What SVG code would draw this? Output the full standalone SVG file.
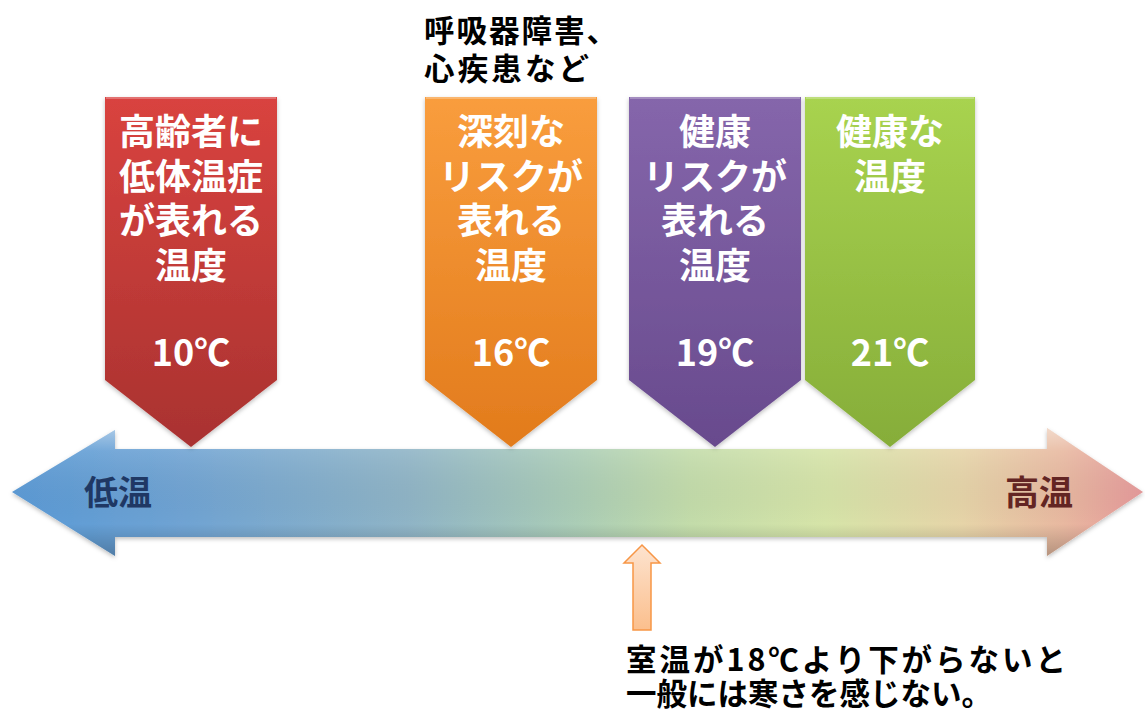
<svg xmlns="http://www.w3.org/2000/svg" width="1145" height="711" viewBox="0 0 1145 711">
<defs>
<linearGradient id="gRed" x1="0" y1="0" x2="0" y2="1"><stop offset="0" stop-color="#d9433f"/><stop offset="1" stop-color="#a93230"/></linearGradient>
<linearGradient id="gOrange" x1="0" y1="0" x2="0" y2="1"><stop offset="0" stop-color="#f99d3d"/><stop offset="1" stop-color="#e27b1c"/></linearGradient>
<linearGradient id="gPurple" x1="0" y1="0" x2="0" y2="1"><stop offset="0" stop-color="#8566ab"/><stop offset="1" stop-color="#684a8d"/></linearGradient>
<linearGradient id="gGreen" x1="0" y1="0" x2="0" y2="1"><stop offset="0" stop-color="#a8d34f"/><stop offset="1" stop-color="#86ad39"/></linearGradient>
<linearGradient id="gAxis" x1="0" y1="0" x2="1" y2="0">
<stop offset="0" stop-color="#5a9ad6"/>
<stop offset="0.15" stop-color="#6fa3d3"/>
<stop offset="0.35" stop-color="#8fb4c6"/>
<stop offset="0.5" stop-color="#abcdb6"/>
<stop offset="0.6" stop-color="#c3dcaa"/>
<stop offset="0.72" stop-color="#d6e4a8"/>
<stop offset="0.84" stop-color="#e6d4a8"/>
<stop offset="0.93" stop-color="#e8b8a0"/>
<stop offset="1" stop-color="#e6999a"/>
</linearGradient>
<linearGradient id="gShade" x1="0" y1="0" x2="0" y2="1">
<stop offset="0" stop-color="#ffffff" stop-opacity="0.45"/>
<stop offset="0.18" stop-color="#ffffff" stop-opacity="0.1"/>
<stop offset="0.75" stop-color="#000000" stop-opacity="0"/>
<stop offset="1" stop-color="#000000" stop-opacity="0.22"/>
</linearGradient>
<linearGradient id="gUp" x1="0" y1="0" x2="0" y2="1"><stop offset="0" stop-color="#fde3cf"/><stop offset="1" stop-color="#fbbf8d"/></linearGradient>
<filter id="sh" x="-10%" y="-10%" width="120%" height="120%"><feDropShadow dx="0" dy="2" stdDeviation="2" flood-color="#000" flood-opacity="0.25"/></filter>
</defs>
<style>
.lbl{font-family:"Noto Sans CJK JP","Noto Sans",sans-serif;font-weight:bold;font-size:36px;fill:#ffffff;text-anchor:middle}
.blk{font-family:"Noto Sans CJK JP","Noto Sans",sans-serif;font-weight:bold;font-size:30.5px;fill:#000000}
.end{font-family:"Noto Sans CJK JP","Noto Sans",sans-serif;font-weight:bold;font-size:34px;text-anchor:middle}
.edge{fill:none;stroke:#ffffff;stroke-opacity:0.35;stroke-width:1.5}
</style>

<g id="axis">
<path d="M12,492 L115,430 L115,449 L1047,449 L1047,428 L1143,492 L1047,556 L1047,537 L115,537 L115,556 Z" fill="url(#gAxis)" filter="url(#sh)"/>
<path d="M12,492 L115,430 L115,449 L1047,449 L1047,428 L1143,492 L1047,556 L1047,537 L115,537 L115,556 Z" fill="url(#gShade)"/>
<text class="end" x="118" y="505" fill="#1f3864">低温</text>
<text class="end" x="1039" y="505" fill="#632523">高温</text>
</g>

<g id="node-10">
<path d="M105,97 L277,97 L277,380 L191,447 L105,380 Z" fill="url(#gRed)" filter="url(#sh)"/>
<path d="M106,98 L276,98" class="edge"/>
<text class="lbl" x="191" y="145">高齢者に</text>
<text class="lbl" x="191" y="190">低体温症</text>
<text class="lbl" x="191" y="234">が表れる</text>
<text class="lbl" x="191" y="279">温度</text>
<text class="lbl" x="191" y="366">10℃</text>
</g>

<g id="node-16">
<path d="M425,97 L597,97 L597,380 L511,447 L425,380 Z" fill="url(#gOrange)" filter="url(#sh)"/>
<path d="M426,98 L596,98" class="edge"/>
<text class="lbl" x="511" y="145">深刻な</text>
<text class="lbl" x="511" y="190">リスクが</text>
<text class="lbl" x="511" y="234">表れる</text>
<text class="lbl" x="511" y="279">温度</text>
<text class="lbl" x="511" y="366">16℃</text>
</g>

<g id="node-19">
<path d="M629,97 L801,97 L801,380 L715,447 L629,380 Z" fill="url(#gPurple)" filter="url(#sh)"/>
<path d="M630,98 L800,98" class="edge"/>
<text class="lbl" x="715" y="145">健康</text>
<text class="lbl" x="715" y="190">リスクが</text>
<text class="lbl" x="715" y="234">表れる</text>
<text class="lbl" x="715" y="279">温度</text>
<text class="lbl" x="715" y="366">19℃</text>
</g>

<g id="node-21">
<path d="M805,97 L975,97 L975,380 L890,447 L805,380 Z" fill="url(#gGreen)" filter="url(#sh)"/>
<path d="M806,98 L974,98" class="edge"/>
<text class="lbl" x="890" y="145">健康な</text>
<text class="lbl" x="890" y="190">温度</text>
<text class="lbl" x="890" y="366">21℃</text>
</g>

<g id="note-top">
<text class="blk" x="424" y="42" textLength="193" lengthAdjust="spacing">呼吸器障害、</text>
<text class="blk" x="424" y="80" textLength="165" lengthAdjust="spacing">心疾患など</text>
</g>

<g id="connectors">
<path d="M642,545 L660,563 L651,563 L651,630 L633,630 L633,563 L624,563 Z" fill="url(#gUp)" stroke="#f79646" stroke-width="1.5"/>
</g>

<g id="note-bottom">
<text class="blk" x="626" y="671" textLength="440" lengthAdjust="spacing">室温が18℃より下がらないと</text>
<text class="blk" x="626" y="705" textLength="366" lengthAdjust="spacing">一般には寒さを感じない。</text>
</g>
</svg>
